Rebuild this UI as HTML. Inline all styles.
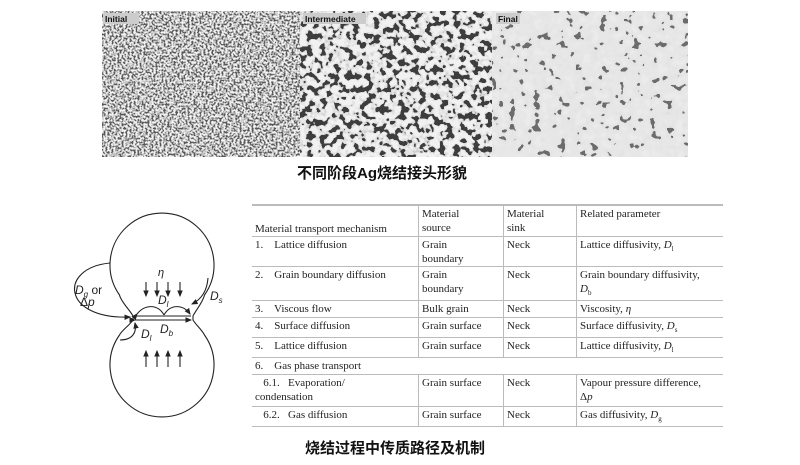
<!DOCTYPE html>
<html><head><meta charset="utf-8"><style>
body{margin:0;width:800px;height:465px;background:#fff;position:relative;overflow:hidden;font-family:"Liberation Serif",serif}
.cap{position:absolute;font-family:"Liberation Sans","Noto Sans CJK SC",sans-serif;font-weight:bold;font-size:15px;color:#111;white-space:nowrap}
table{position:absolute;left:252px;top:204px;width:471px;border-collapse:collapse;font-size:11px;color:#222;line-height:14px}
td{vertical-align:top;padding:1px 3px 0 3px;border-bottom:1px solid #bbb}
td+td{border-left:1px solid #bbb}
</style></head><body>
<svg width="800" height="465" style="position:absolute;left:0;top:0">
<defs>
<filter id="f1" x="0" y="0" width="100%" height="100%"><feTurbulence type="fractalNoise" baseFrequency="0.5" numOctaves="2" seed="3"/><feColorMatrix type="matrix" values="4 0 0 0 -1.5  4 0 0 0 -1.5  4 0 0 0 -1.5  0 0 0 0 1"/><feComponentTransfer><feFuncR type="discrete" tableValues="0.1 0.4 0.6 0.75 0.9"/><feFuncG type="discrete" tableValues="0.1 0.4 0.6 0.75 0.9"/><feFuncB type="discrete" tableValues="0.1 0.4 0.6 0.75 0.9"/></feComponentTransfer></filter>
<filter id="f2" x="0" y="0" width="100%" height="100%"><feTurbulence type="fractalNoise" baseFrequency="0.15" numOctaves="2" seed="7"/><feColorMatrix type="matrix" values="5 0 0 0 -2  5 0 0 0 -2  5 0 0 0 -2  0 0 0 0 1"/><feComponentTransfer><feFuncR type="discrete" tableValues="0.05 0.62 0.74 0.78 0.82 0.88"/><feFuncG type="discrete" tableValues="0.05 0.62 0.74 0.78 0.82 0.88"/><feFuncB type="discrete" tableValues="0.05 0.62 0.74 0.78 0.82 0.88"/></feComponentTransfer></filter>
<filter id="f3" x="0" y="0" width="100%" height="100%"><feTurbulence type="fractalNoise" baseFrequency="0.12" numOctaves="2" seed="11"/><feColorMatrix type="matrix" values="2.5 0 0 0 -0.75  2.5 0 0 0 -0.75  2.5 0 0 0 -0.75  0 0 0 0 1"/><feComponentTransfer><feFuncR type="discrete" tableValues="0.15 0.7 0.78 0.78 0.78 0.78 0.78 0.79 0.79 0.79 0.8 0.8 0.8 0.8 0.8 0.8 0.81 0.81 0.82 0.83"/><feFuncG type="discrete" tableValues="0.15 0.7 0.78 0.78 0.78 0.78 0.78 0.79 0.79 0.79 0.8 0.8 0.8 0.8 0.8 0.8 0.81 0.81 0.82 0.83"/><feFuncB type="discrete" tableValues="0.15 0.7 0.78 0.78 0.78 0.78 0.78 0.79 0.79 0.79 0.8 0.8 0.8 0.8 0.8 0.8 0.81 0.81 0.82 0.83"/></feComponentTransfer></filter>
<marker id="a" markerWidth="6" markerHeight="6" refX="5" refY="3" orient="auto"><path d="M0,0.5 L6,3 L0,5.5z" fill="#222"/></marker>
</defs>
<rect x="102" y="11" width="198" height="146" filter="url(#f1)"/>
<rect x="300" y="11" width="192" height="146" filter="url(#f2)"/>
<rect x="492" y="11" width="196" height="146" filter="url(#f3)"/>
<g font-family="Liberation Sans,sans-serif" font-weight="bold" font-size="8.5" fill="#111">
<rect x="103" y="13" width="36" height="11" fill="#ccc"/><text x="105" y="22">Initial</text>
<rect x="303" y="13" width="63" height="11" fill="#ccc"/><text x="305" y="22">Intermediate</text>
<rect x="496" y="13" width="24" height="11" fill="#ccc"/><text x="498" y="22">Final</text></g>
<g fill="none" stroke="#222" stroke-width="1.1">
<path d="M133,316 C130,310 121,302 119.5,295 A52,52 0 1 1 204.5,295 C203,302 196,310 193,316 L193,320 C196,325 202,330 204.5,335 A52,52 0 1 1 119.5,335 C122,330 130,325 133,320 Z" fill="#fff"/>
<line x1="135" y1="316" x2="191" y2="316"/><line x1="135" y1="320" x2="191" y2="320" marker-end="url(#a)" marker-start="url(#a)"/>
<path d="M137,314 C145,304 158,304 164,315" marker-start="url(#a)"/>
<path d="M164,315 C170,304 183,304 190,314" marker-end="url(#a)"/>
<path d="M110,263 C58,268 62,320 130,317" marker-end="url(#a)"/>
<path d="M208,278 C207,292 200,300 192,304" marker-end="url(#a)"/>
<path d="M120,340 C132,340 137,333 135,323" marker-end="url(#a)"/>
<g marker-end="url(#a)"><line x1="146" y1="282" x2="146" y2="296"/><line x1="157" y1="282" x2="157" y2="296"/><line x1="168" y1="282" x2="168" y2="296"/><line x1="180" y1="282" x2="180" y2="296"/>
<line x1="146" y1="367" x2="146" y2="351"/><line x1="157" y1="367" x2="157" y2="351"/><line x1="168" y1="367" x2="168" y2="351"/><line x1="180" y1="367" x2="180" y2="351"/></g>
</g>
<g font-family="Liberation Sans,sans-serif" font-size="12" fill="#222">
<text x="158" y="276" font-style="italic" font-size="11">η</text>
<text x="158" y="304" font-style="italic">D<tspan font-size="8" dy="3">l</tspan></text>
<text x="160" y="333" font-style="italic">D<tspan font-size="8" dy="3">b</tspan></text>
<text x="141" y="338" font-style="italic">D<tspan font-size="8" dy="3">l</tspan></text>
<text x="210" y="300" font-style="italic">D<tspan font-size="8" dy="3">s</tspan></text>
<text x="75" y="294"><tspan font-style="italic">D</tspan><tspan font-size="8" dy="3" font-style="italic">g</tspan><tspan dy="-3"> or</tspan></text>
<text x="80" y="306">Δ<tspan font-style="italic">p</tspan></text>
</g>
</svg>
<div class="cap" style="left:297px;top:162px">不同阶段Ag烧结接头形貌</div>
<div class="cap" style="left:305px;top:437px">烧结过程中传质路径及机制</div>
<table>
<tr style="border-top:2px solid #bbb;height:31px"><td style="width:160px;vertical-align:bottom">Material transport mechanism</td><td style="width:78px">Material<br>source</td><td style="width:66px">Material<br>sink</td><td>Related parameter</td></tr>
<tr style="height:30px"><td>1.&nbsp;&nbsp;&nbsp; Lattice diffusion</td><td>Grain<br>boundary</td><td>Neck</td><td>Lattice diffusivity, <i>D</i><sub style="font-size:7px">l</sub></td></tr>
<tr style="height:33px"><td>2.&nbsp;&nbsp;&nbsp; Grain boundary diffusion</td><td>Grain<br>boundary</td><td>Neck</td><td>Grain boundary diffusivity,<br><i>D</i><sub style="font-size:7px">b</sub></td></tr>
<tr style="height:17px"><td>3.&nbsp;&nbsp;&nbsp; Viscous flow</td><td>Bulk grain</td><td>Neck</td><td>Viscosity, <i>η</i></td></tr>
<tr style="height:17px"><td>4.&nbsp;&nbsp;&nbsp; Surface diffusion</td><td>Grain surface</td><td>Neck</td><td>Surface diffusivity, <i>D</i><sub style="font-size:7px">s</sub></td></tr>
<tr style="height:16px"><td>5.&nbsp;&nbsp;&nbsp; Lattice diffusion</td><td>Grain surface</td><td>Neck</td><td>Lattice diffusivity, <i>D</i><sub style="font-size:7px">l</sub></td></tr>
<tr style="height:17px"><td colspan="4" style="border-left:none">6.&nbsp;&nbsp;&nbsp; Gas phase transport</td></tr>
<tr style="height:32px"><td>&nbsp;&nbsp;&nbsp;6.1.&nbsp;&nbsp; Evaporation/<br>condensation</td><td>Grain surface</td><td>Neck</td><td>Vapour pressure difference,<br>Δ<i>p</i></td></tr>
<tr style="height:15px"><td>&nbsp;&nbsp;&nbsp;6.2.&nbsp;&nbsp; Gas diffusion</td><td>Grain surface</td><td>Neck</td><td>Gas diffusivity, <i>D</i><sub style="font-size:7px">g</sub></td></tr>
</table>
</body></html>
